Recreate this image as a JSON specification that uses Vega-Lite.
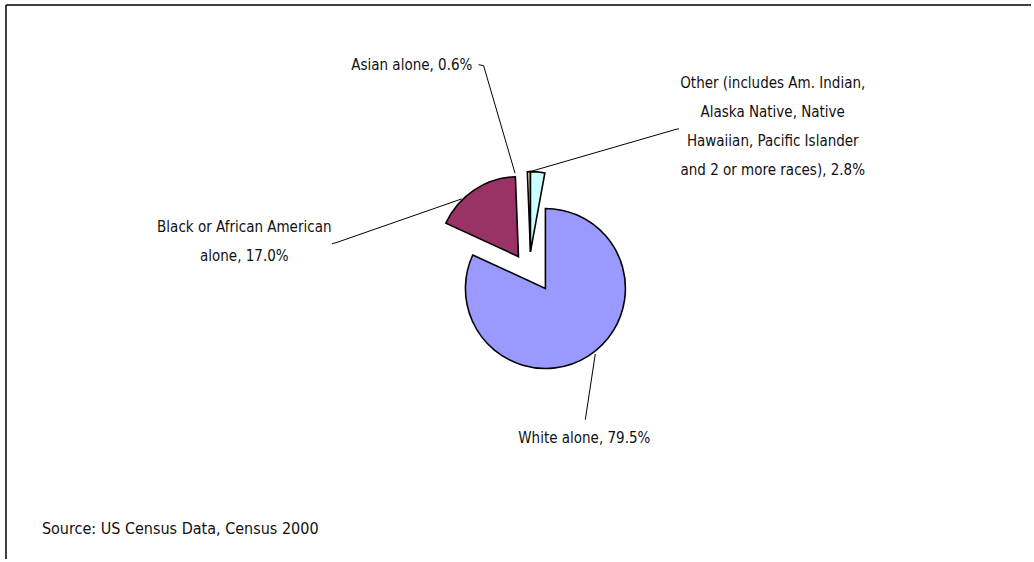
{
  "$schema": "https://vega.github.io/schema/vega-lite/v6.json",
  "width": 1034,
  "height": 562,
  "autosize": {"type": "fit", "contains": "padding"},
  "padding": 0,
  "background": "white",
  "config": {"view": {"stroke": null}},
  "datasets": {
    "races": [
      {"race": "White alone", "pct": 79.5, "order": 1},
      {"race": "Black or African American alone", "pct": 17.0, "order": 2},
      {"race": "Asian alone", "pct": 0.6, "order": 3},
      {"race": "Other", "pct": 2.8, "order": 4}
    ],
    "labels": [
      {"text": "Asian alone, 0.6%", "x": 413, "y": 65},
      {"text": "Other (includes Am. Indian,\nAlaska Native, Native\nHawaiian, Pacific Islander\nand 2 or more races), 2.8%", "x": 775, "y": 83},
      {"text": "Black or African American\nalone, 17.0%", "x": 245, "y": 228},
      {"text": "White alone, 79.5%", "x": 586, "y": 440}
    ],
    "source": [
      {"text": "Source: US Census Data, Census 2000", "x": 42, "y": 532}
    ],
    "leaders": [
      {"id": "asian", "seq": 1, "x": 480, "y": 65},
      {"id": "asian", "seq": 2, "x": 485, "y": 66},
      {"id": "asian", "seq": 3, "x": 516.5, "y": 174},
      {"id": "other", "seq": 1, "x": 530, "y": 173},
      {"id": "other", "seq": 2, "x": 678, "y": 130},
      {"id": "other", "seq": 3, "x": 681, "y": 129.5},
      {"id": "black", "seq": 1, "x": 333, "y": 245},
      {"id": "black", "seq": 2, "x": 337, "y": 244},
      {"id": "black", "seq": 3, "x": 463, "y": 200},
      {"id": "white", "seq": 1, "x": 597, "y": 356},
      {"id": "white", "seq": 2, "x": 587, "y": 422}
    ],
    "frame": [
      {"id": "top", "seq": 1, "x": 6, "y": 5},
      {"id": "top", "seq": 2, "x": 1034, "y": 5},
      {"id": "left", "seq": 1, "x": 6, "y": 5},
      {"id": "left", "seq": 2, "x": 6, "y": 562}
    ]
  },
  "layer": [
    {
      "data": {"name": "frame"},
      "mark": {"type": "line", "stroke": "#000000", "strokeWidth": 1.5},
      "encoding": {
        "x": {"field": "x", "type": "quantitative", "scale": {"domain": [0, 1034], "nice": false, "zero": false}, "axis": null},
        "y": {"field": "y", "type": "quantitative", "scale": {"domain": [0, 562], "nice": false, "zero": false, "reverse": true}, "axis": null},
        "detail": {"field": "id"},
        "order": {"field": "seq"}
      }
    },
    {
      "data": {"name": "races"},
      "transform": [
        {"stack": "pct", "groupby": [], "sort": [{"field": "order", "order": "ascending"}], "as": ["t0", "t1"]},
        {"filter": "datum.race === 'White alone'"}
      ],
      "mark": {"type": "arc", "radius": 80, "stroke": "#000000", "strokeWidth": 1.6, "strokeJoin": "miter"},
      "encoding": {
        "x": {"datum": 547, "type": "quantitative", "scale": {"domain": [0, 1034], "nice": false, "zero": false}, "axis": null},
        "y": {"datum": 290, "type": "quantitative", "scale": {"domain": [0, 562], "nice": false, "zero": false, "reverse": true}, "axis": null},
        "theta": {"field": "t0", "type": "quantitative"},
        "theta2": {"field": "t1"},
        "color": {"field": "race", "type": "nominal", "legend": null,
          "scale": {"domain": ["White alone", "Black or African American alone", "Asian alone", "Other"], "range": ["#9999FF", "#993366", "#FFFFCC", "#CCFFFF"]}}
      }
    },
    {
      "data": {"name": "races"},
      "transform": [
        {"stack": "pct", "groupby": [], "sort": [{"field": "order", "order": "ascending"}], "as": ["t0", "t1"]},
        {"filter": "datum.race === 'Black or African American alone'"}
      ],
      "mark": {"type": "arc", "radius": 80, "stroke": "#000000", "strokeWidth": 1.6, "strokeJoin": "miter"},
      "encoding": {
        "x": {"datum": 520, "type": "quantitative"},
        "y": {"datum": 258, "type": "quantitative"},
        "theta": {"field": "t0", "type": "quantitative"},
        "theta2": {"field": "t1"},
        "color": {"field": "race", "type": "nominal", "legend": null}
      }
    },
    {
      "data": {"name": "races"},
      "transform": [
        {"stack": "pct", "groupby": [], "sort": [{"field": "order", "order": "ascending"}], "as": ["t0", "t1"]},
        {"filter": "datum.race === 'Asian alone' || datum.race === 'Other'"}
      ],
      "mark": {"type": "arc", "radius": 80, "stroke": "#000000", "strokeWidth": 1.6, "strokeJoin": "miter"},
      "encoding": {
        "x": {"datum": 532, "type": "quantitative"},
        "y": {"datum": 253, "type": "quantitative"},
        "theta": {"field": "t0", "type": "quantitative"},
        "theta2": {"field": "t1"},
        "color": {"field": "race", "type": "nominal", "legend": null}
      }
    },
    {
      "data": {"name": "leaders"},
      "mark": {"type": "line", "stroke": "#000000", "strokeWidth": 1},
      "encoding": {
        "x": {"field": "x", "type": "quantitative"},
        "y": {"field": "y", "type": "quantitative"},
        "detail": {"field": "id"},
        "order": {"field": "seq"}
      }
    },
    {
      "data": {"name": "labels"},
      "mark": {"type": "text", "align": "center", "baseline": "middle", "lineBreak": "\n", "lineHeight": 29,
        "font": "DejaVu Sans Condensed, sans-serif", "fontSize": 15, "fill": "#111111"},
      "encoding": {
        "x": {"field": "x", "type": "quantitative"},
        "y": {"field": "y", "type": "quantitative"},
        "text": {"field": "text"}
      }
    },
    {
      "data": {"name": "source"},
      "mark": {"type": "text", "align": "left", "baseline": "middle",
        "font": "DejaVu Sans Condensed, sans-serif", "fontSize": 16, "fill": "#111111"},
      "encoding": {
        "x": {"field": "x", "type": "quantitative"},
        "y": {"field": "y", "type": "quantitative"},
        "text": {"field": "text"}
      }
    }
  ]
}
